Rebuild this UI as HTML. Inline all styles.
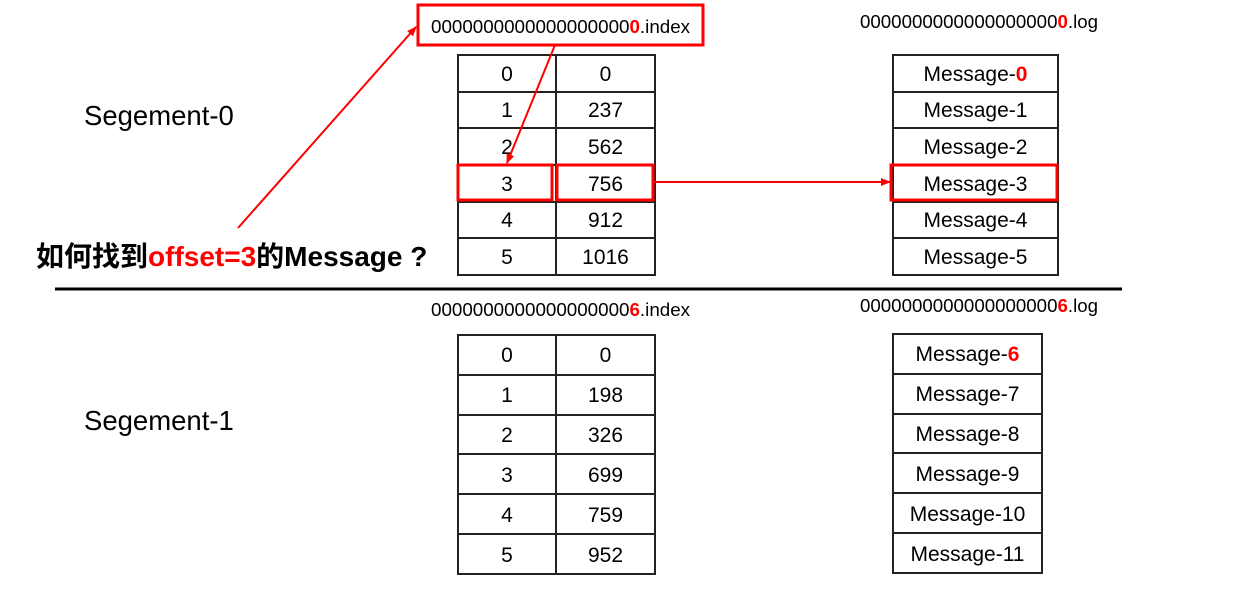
<!DOCTYPE html>
<html><head><meta charset="utf-8"><style>
body{margin:0;width:1247px;height:595px;background:#fff;position:relative;overflow:hidden;font-family:"Liberation Sans","Noto Sans CJK SC",sans-serif;}
.t{position:absolute;white-space:nowrap;color:#000;}
.r{color:#f00;font-weight:bold;}
table{position:absolute;border-collapse:collapse;table-layout:fixed;}
td{border:2px solid #222;text-align:center;font-size:21px;padding:3px 0 0 0;}
</style></head><body>
<svg width="1247" height="595" style="position:absolute;left:0;top:0">
<line x1="55" y1="289" x2="1122" y2="289" stroke="#000" stroke-width="3"/>
</svg>
<table style="left:457px;top:54px;width:197px;height:222px"><col style="width:98px"><col style="width:99px"><tr><td>0</td><td>0</td></tr><tr><td>1</td><td>237</td></tr><tr><td>2</td><td>562</td></tr><tr><td>3</td><td>756</td></tr><tr><td>4</td><td>912</td></tr><tr><td>5</td><td>1016</td></tr></table>
<table style="left:892px;top:54px;width:167px;height:222px"><tr><td>Message-<span class="r">0</span></td></tr><tr><td>Message-1</td></tr><tr><td>Message-2</td></tr><tr><td>Message-3</td></tr><tr><td>Message-4</td></tr><tr><td>Message-5</td></tr></table>
<table style="left:457px;top:334px;width:197px;height:241px"><col style="width:98px"><col style="width:99px"><tr><td>0</td><td>0</td></tr><tr><td>1</td><td>198</td></tr><tr><td>2</td><td>326</td></tr><tr><td>3</td><td>699</td></tr><tr><td>4</td><td>759</td></tr><tr><td>5</td><td>952</td></tr></table>
<table style="left:892px;top:333px;width:151px;height:241px"><tr><td>Message-<span class="r">6</span></td></tr><tr><td>Message-7</td></tr><tr><td>Message-8</td></tr><tr><td>Message-9</td></tr><tr><td>Message-10</td></tr><tr><td>Message-11</td></tr></table>
<svg width="1247" height="595" style="position:absolute;left:0;top:0">
<defs><marker id="a" markerWidth="10" markerHeight="10" refX="9" refY="5" orient="auto" markerUnits="userSpaceOnUse"><path d="M0,1 L10,5 L0,9 z" fill="#f00"/></marker></defs>
<rect x="418" y="5" width="285" height="40" fill="none" stroke="#f00" stroke-width="3"/>
<rect x="458" y="165" width="94" height="35" fill="none" stroke="#f00" stroke-width="3"/>
<rect x="557" y="165" width="96" height="35" fill="none" stroke="#f00" stroke-width="3"/>
<rect x="891" y="165" width="166" height="35" fill="none" stroke="#f00" stroke-width="3"/>
<line x1="555" y1="45" x2="507" y2="163" stroke="#f00" stroke-width="2" marker-end="url(#a)"/>
<line x1="653" y1="182" x2="890" y2="182" stroke="#f00" stroke-width="2" marker-end="url(#a)"/>
<line x1="238" y1="228" x2="416" y2="27" stroke="#f00" stroke-width="2" marker-end="url(#a)"/>
</svg>
<div class="t" style="left:431px;top:16px;font-size:18.8px">0000000000000000000<span class="r">0</span>.index</div>
<div class="t" style="left:860px;top:11px;font-size:18.7px">0000000000000000000<span class="r">0</span>.log</div>
<div class="t" style="left:431px;top:299px;font-size:18.8px">0000000000000000000<span class="r">6</span>.index</div>
<div class="t" style="left:860px;top:295px;font-size:18.7px">0000000000000000000<span class="r">6</span>.log</div>
<div class="t" style="left:84px;top:100px;font-size:27.5px">Segement-0</div>
<div class="t" style="left:84px;top:405px;font-size:27.5px">Segement-1</div>
<div class="t" style="left:36px;top:235px;font-size:28px;font-weight:bold">如何找到<span style="color:#f00">offset=3</span>的Message ?</div>
</body></html>
